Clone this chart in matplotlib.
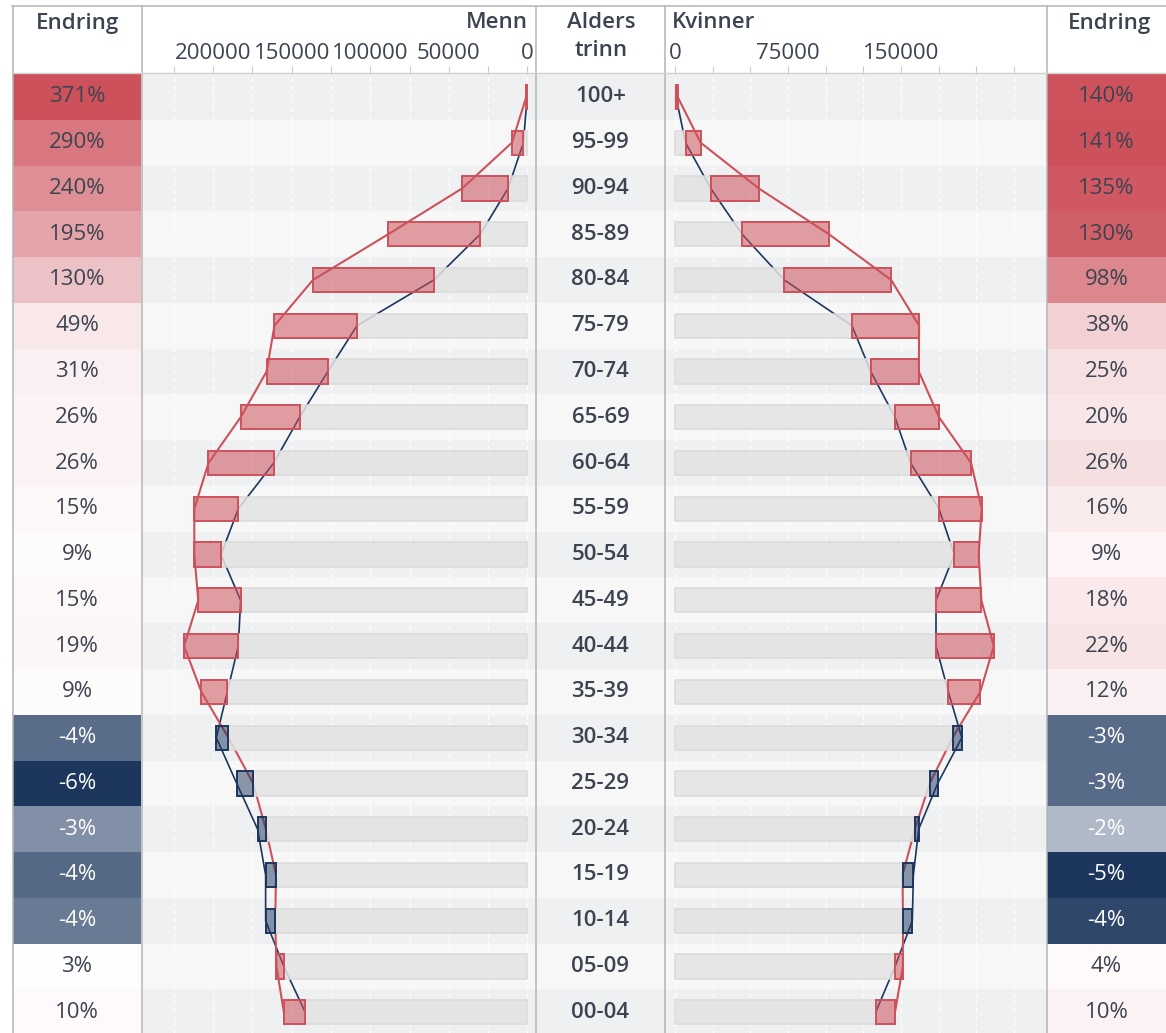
import matplotlib
matplotlib.use("Agg")

import matplotlib.pyplot as plt
import numpy as np
from matplotlib.lines import Line2D
from matplotlib.colors import to_rgb, to_rgba

plt.rcParams["font.family"] = ["Open Sans", "DejaVu Sans"]

# =====================================================
# Data
# =====================================================

ages = ["100+", "95-99", "90-94", "85-89", "80-84", "75-79", "70-74",
        "65-69", "60-64", "55-59", "50-54", "45-49", "40-44", "35-39",
        "30-34", "25-29", "20-24", "15-19", "10-14", "05-09", "00-04"]

# men: today and projected
men_now = [150, 2500, 12300, 30000, 59500, 108500, 127000,
           145000, 161500, 184000, 195000, 182500, 184000, 191000,
           198000, 185000, 171700, 166600, 166600, 155000, 141400]
men_future = [700, 9800, 41500, 88500, 136500, 161000, 166000,
              182500, 203000, 212000, 212000, 209500, 218500, 207500,
              190300, 174500, 166500, 160000, 160500, 159700, 155000]

# women: today and projected
women_now = [800, 7100, 23800, 44600, 72600, 117500, 129900,
             146000, 156400, 175200, 185300, 173200, 173200, 181400,
             190300, 174300, 161700, 158200, 157500, 146000, 133200]
women_future = [1900, 17100, 55700, 102200, 143500, 162000, 161800,
                175200, 196500, 203500, 201500, 203300, 211500, 202500,
                184200, 169000, 159200, 151000, 151300, 151200, 146000]

# change in percent
men_change = [371, 290, 240, 195, 130, 49, 31, 26, 26, 15, 9, 15, 19, 9,
              -4.1, -5.6, -3.1, -4.2, -3.7, 3, 10]
women_change = [140, 141, 135, 130, 98, 38, 25, 20, 26, 16, 9, 18, 22, 12,
                -3.4, -3.4, -1.6, -4.6, -4.2, 4, 10]

men_tick_labels = [0, 50000, 100000, 150000, 200000]
women_tick_labels = [0, 75000, 150000]

# =====================================================
# Styles
# =====================================================

W, H = 1166, 1033
RED = "#cd515b"
NAVY = "#1c365e"
TEXT = "#3b4450"
LINE = "#b4b4b4"
ROW_DARK = "#eef0f2"
ROW_LIGHT = "#f7f7f7"
FS = 16

n = len(ages)
y = np.arange(n)


def box(x0, y0, x1, y1):
    return [x0 / W, 1 - y1 / H, (x1 - x0) / W, (y1 - y0) / H]


def cell_color(v, vmax, vmin):
    white = np.array([1.0, 1.0, 1.0])
    if v >= 0:
        f = v / vmax
        c = np.array(to_rgb(RED))
    else:
        f = v / vmin
        c = np.array(to_rgb(NAVY))
    return tuple(white + (c - white) * f)


figure = plt.figure(figsize=(W / 100, H / 100), dpi=100)

top_row = 74
bottom_row = top_row + n * 45.77

ax_lc = figure.add_axes(box(13, top_row, 141, bottom_row))
ax_m = figure.add_axes(box(142, top_row, 536, bottom_row))
ax_a = figure.add_axes(box(536, top_row, 665, bottom_row))
ax_w = figure.add_axes(box(665, top_row, 1047, bottom_row))
ax_rc = figure.add_axes(box(1047, top_row, 1166, bottom_row))

for ax in [ax_lc, ax_m, ax_a, ax_w, ax_rc]:
    ax.set_ylim(n - 0.5, -0.5)
    for s in ax.spines.values():
        s.set_visible(False)
    ax.set_yticks([])

# row backgrounds
for ax in [ax_m, ax_a, ax_w]:
    for i in range(n):
        ax.axhspan(i - 0.5, i + 0.5,
                   color=ROW_DARK if i % 2 == 0 else ROW_LIGHT,
                   lw=0, zorder=0)

# =====================================================
# Change columns
# =====================================================

for ax, change in [(ax_lc, men_change), (ax_rc, women_change)]:
    ch = np.array(change, dtype=float)
    colors = [cell_color(v, ch.max(), ch.min()) for v in ch]
    ax.barh(y, 1, left=0, height=1, color=colors, lw=0)
    ax.set_xlim(0, 1)
    ax.set_xticks([])
    for i, v in enumerate(ch):
        ax.text(0.5, i, f"{int(round(v))}%", ha="center", va="center",
                fontsize=FS, color="white" if v < 0 else TEXT)

# =====================================================
# Age column
# =====================================================

ax_a.set_xlim(0, 1)
ax_a.set_xticks([])
for i, a in enumerate(ages):
    ax_a.text(0.5, i, a, ha="center", va="center", fontsize=FS,
              fontweight="semibold", color=TEXT)

# =====================================================
# Pyramid panels
# =====================================================

ticks = np.arange(0, 250000, 25000)

for ax, now, future, labels in [(ax_m, men_now, men_future, men_tick_labels),
                                (ax_w, women_now, women_future, women_tick_labels)]:
    now = np.array(now)
    future = np.array(future)

    for t in ticks:
        ax.axvline(t, color="white", lw=0.9, ls=(0, (3, 3)), zorder=1)

    ax.plot(now, y, color=NAVY, lw=1.2, zorder=2)
    ax.plot(future, y, color=RED, lw=1.5, zorder=2)

    base = np.minimum(now, future)
    ax.barh(y, base, height=0.53, color="#e3e3e3", edgecolor="#d9d9d9",
            lw=1.2, alpha=0.85, zorder=3)

    up = future >= now
    faces = [to_rgba(RED, 0.55) if u else to_rgba(NAVY, 0.5) for u in up]
    edges = [RED if u else NAVY for u in up]
    ax.barh(y, np.abs(future - now), left=base, height=0.53,
            color=faces, edgecolor=edges, lw=1.4, zorder=4)

    ax.xaxis.tick_top()
    ax.set_xticks(ticks)
    ax.set_xticklabels([str(t) if t in labels else "" for t in ticks])
    ax.tick_params(axis="x", length=5.8, width=0.8, color="#cccccc",
                   pad=1.7, labelsize=FS, labelcolor=TEXT)

ax_m.set_xlim(245300, -5500)
ax_w.set_xlim(-6500, 246800)

# =====================================================
# Header and frame
# =====================================================


def ftext(x, yb, s, **kw):
    figure.text(x / W, 1 - yb / H, s, fontsize=FS, color=TEXT,
                fontweight="semibold", va="baseline", **kw)


ftext(77, 28.5, "Endring", ha="center")
ftext(528, 28.5, "Menn", ha="right")
ftext(601, 28.5, "Alders", ha="center")
ftext(601, 56.5, "trinn", ha="center")
ftext(672, 28.5, "Kvinner", ha="left")
ftext(1110, 28.5, "Endring", ha="center")

for x in [12.5, 141.5, 536, 665, 1047]:
    figure.add_artist(Line2D([x / W, x / W], [1 - 6 / H, 0],
                             transform=figure.transFigure, color=LINE, lw=1.1))

figure.add_artist(Line2D([12 / W, 1], [1 - 6 / H, 1 - 6 / H],
                         transform=figure.transFigure, color=LINE, lw=1.1))
figure.add_artist(Line2D([12 / W, 1], [1 - 73 / H, 1 - 73 / H],
                         transform=figure.transFigure, color="#d0d0d0", lw=1.0))

figure.savefig("out.png", dpi=100, facecolor="white")
